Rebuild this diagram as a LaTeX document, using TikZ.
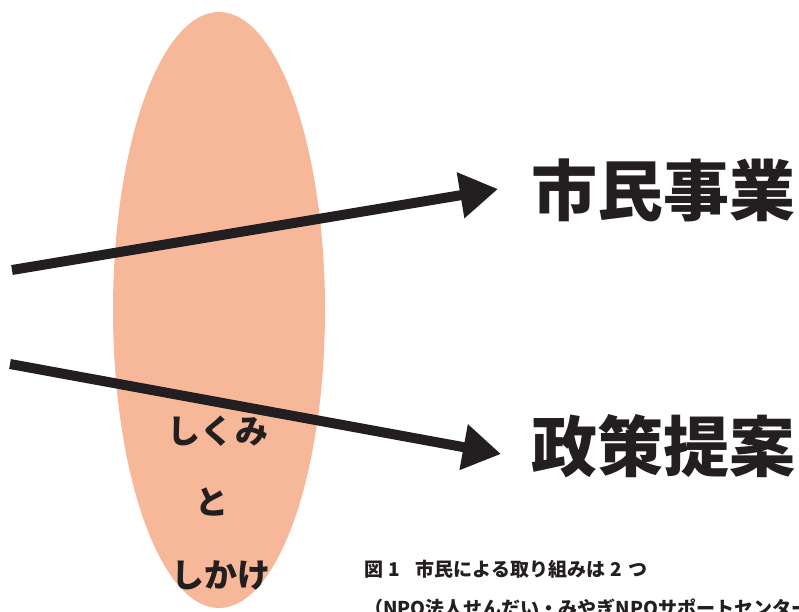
\documentclass[tikz,border=0pt]{standalone}
\usepackage{fontspec}
\newfontfamily\jp{Noto Sans CJK JP}[BoldFont={* Black}]
\usetikzlibrary{arrows.meta,shapes.geometric}
\definecolor{salmon}{HTML}{F7B899}
\definecolor{ink}{HTML}{231F20}
\begin{document}
\begin{tikzpicture}[x=1pt,y=-1pt,
  blob/.style={ellipse,fill=salmon,draw=none,minimum width=212pt,minimum height=596pt,inner sep=0pt},
  big/.style={font=\jp\bfseries\fontsize{66}{70}\selectfont,text=ink,inner sep=0pt,anchor=west},
  small/.style={font=\jp\bfseries\fontsize{33}{36}\selectfont,text=ink,inner sep=0pt},
  captext/.style={font=\jp\bfseries\fontsize{19}{21}\selectfont,text=ink,inner sep=0pt,anchor=west},
  arr/.style={draw=ink,line width=10pt,-{Triangle[length=38pt,width=44pt]}}]
\useasboundingbox (0,0) rectangle (799,611);
\node[blob] (oval) at (219,310) {};
\node[big] (jigyo) at (531,190) {市民事業};
\node[big] (teian) at (531,446) {政策提案};
\node[small] (shikumi) at (218,431) {しくみ};
\node[small] (to) at (212,502) {と};
\node[small] (shikake) at (221,575) {しかけ};
\node[captext] (cap1) at (364,569) {図\hspace{0.3em}1\hspace{0.8em}市民による取り組みは\hspace{0.3em}2\hspace{0.3em}つ};
\node[captext] (cap2) at (364,608) {（NPO法人せんだい・みやぎNPOサポートセンター};
\coordinate (s1) at (12,270);
\coordinate (s2) at (10,364);
\draw[arr] (s1) -- ([xshift=-33pt,yshift=1pt]jigyo.west);
\draw[arr] (s2) -- ([xshift=-30pt,yshift=-8pt]teian.west);
\end{tikzpicture}
\end{document}
